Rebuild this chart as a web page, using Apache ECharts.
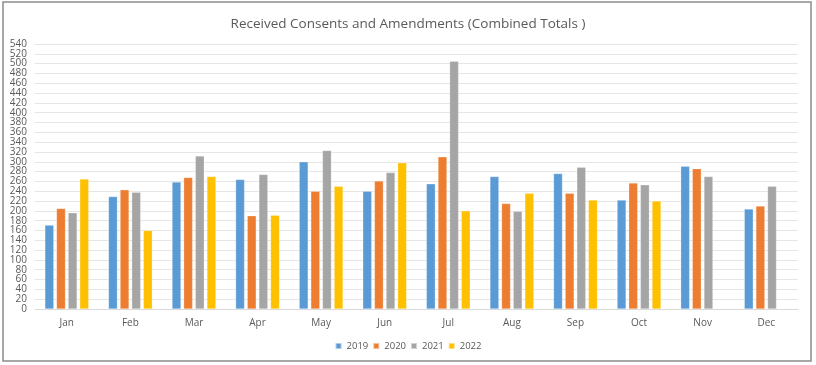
<!DOCTYPE html>
<html><head><meta charset="utf-8">
<script src="https://cdn.jsdelivr.net/npm/echarts@6/dist/echarts.min.js"></script>
<style>html,body{margin:0;padding:0;background:#fff}#c{width:816px;height:365px}</style>
</head><body><div id="c"></div>
<script>
const categories = ['Jan','Feb','Mar','Apr','May','Jun','Jul','Aug','Sep','Oct','Nov','Dec'];
const s2019 = [171,229,259,264,300,240,255,270,276,222,291,204];
const s2020 = [205,243,268,190,240,261,310,215,236,257,286,210];
const s2021 = [196,238,312,274,323,278,505,199,289,253,270,250];
const s2022 = [265,160,270,191,250,298,200,236,222,220,null,null];
const yTicks = {min:0, max:540, interval:20};
const colors = ['#5B9BD5','#ED7D31','#A5A5A5','#FFC000'];
const font = 'Open Sans';
const chart = echarts.init(document.getElementById('c'), null, {renderer:'canvas'});
function bar(name, data, color){
  return {name, type:'bar', data, barGap:'30%', barCategoryGap:'31%',
    itemStyle:{color, borderColor:'rgba(255,255,255,0.5)', borderWidth:0.5}};
}
chart.setOption({
  animation:false,
  color: colors,
  title:{text:'Received Consents and Amendments (Combined Totals )', left:'center', top:12,
    textStyle:{fontFamily:font, fontSize:13.5, fontWeight:'normal', color:'#595959'}},
  legend:{bottom:9, left:'center', itemWidth:6, itemHeight:6, itemGap:4, icon:'rect',
    textStyle:{fontFamily:font, fontSize:9.5, color:'#595959'}},
  grid:{left:35, right:18, top:44, bottom:56, containLabel:false},
  xAxis:{type:'category', data:categories,
    axisLine:{lineStyle:{color:'#D9D9D9'}}, axisTick:{show:false},
    axisLabel:{fontFamily:font, fontSize:10, color:'#595959', margin:9}},
  yAxis:{type:'value', min:yTicks.min, max:yTicks.max, interval:yTicks.interval,
    axisLine:{show:false}, axisTick:{show:false},
    splitLine:{lineStyle:{color:'#E6E6E6'}},
    axisLabel:{fontFamily:font, fontSize:10, color:'#595959', margin:8}},
  series:[bar('2019',s2019,colors[0]),bar('2020',s2020,colors[1]),bar('2021',s2021,colors[2]),bar('2022',s2022,colors[3])],
  graphic:[{type:'rect', shape:{x:3,y:2,width:808,height:359}, style:{fill:'none', stroke:'#8C8C8C', lineWidth:1.5}, silent:true}]
});
</script></body></html>
